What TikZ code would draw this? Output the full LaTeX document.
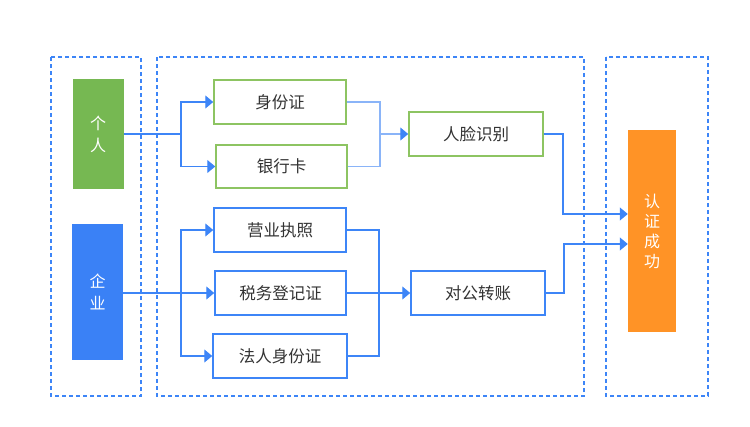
\documentclass[tikz,border=0pt]{standalone}
\usepackage{fontspec}
\setmainfont{Noto Sans CJK SC}
\usetikzlibrary{arrows.meta}
\definecolor{dblue}{HTML}{3D85F7}
\definecolor{lblue}{HTML}{8AB4F8}
\definecolor{lgreen}{HTML}{8DC462}
\definecolor{fgreen}{HTML}{76B852}
\definecolor{fblue}{HTML}{3A81F6}
\definecolor{forange}{HTML}{FF9326}
\definecolor{txt}{HTML}{333333}
\begin{document}
\begin{tikzpicture}[x=1pt,y=-1pt,
  dashbox/.style={draw=dblue,line width=1.1pt,dash pattern=on 4pt off 3pt},
  gbox/.style={draw=lgreen,line width=1.5pt,fill=white,text=txt,font=\fontsize{16.5}{19}\selectfont,inner sep=0pt},
  bbox/.style={draw=dblue,line width=1.5pt,fill=white,text=txt,font=\fontsize{16.5}{19}\selectfont,inner sep=0pt},
  solid/.style={inner sep=0pt,text=white,font=\fontsize{16}{22}\selectfont,align=center},
  conn/.style={draw=dblue,line width=1.2pt},
  lconn/.style={draw=lblue,line width=1.2pt},
  arr/.style={-{Triangle[length=8pt,width=13pt,color=dblue]}}
]
\useasboundingbox (0,0) rectangle (750,426);
\draw[dashbox] (51,57) rectangle (141,396);
\draw[dashbox] (157,57) rectangle (584,396);
\draw[dashbox] (606,57) rectangle (708,396);

\node[solid,fill=fgreen,minimum width=51pt,minimum height=110pt] (gr) at (98,134) {个\\人};
\node[solid,fill=fblue,minimum width=51pt,minimum height=136pt] (qy) at (97.5,292) {企\\业};
\node[solid,fill=forange,minimum width=48pt,minimum height=202pt,font=\fontsize{16}{20}\selectfont] (ok) at (652,231) {认\\证\\成\\功};

\node[gbox,minimum width=132pt,minimum height=44pt] (sfz) at (280,102) {身份证};
\node[gbox,minimum width=131pt,minimum height=43pt] (yhk) at (281.5,166.5) {银行卡};
\node[gbox,minimum width=134pt,minimum height=44pt] (rl) at (476,134) {人脸识别};
\node[bbox,minimum width=132pt,minimum height=44pt] (yy) at (280,230) {营业执照};
\node[bbox,minimum width=131pt,minimum height=44pt] (sw) at (280.5,293) {税务登记证};
\node[bbox,minimum width=134pt,minimum height=44pt] (fr) at (280,356) {法人身份证};
\node[bbox,minimum width=134pt,minimum height=44pt] (dg) at (478,293) {对公转账};

\coordinate (b1) at (181,134);
\coordinate (b2) at (380,134);
\coordinate (b3) at (181,293);
\coordinate (b4) at (379,293);
\coordinate (c1) at (563,214);
\coordinate (c2) at (564,244);

\draw[conn] (gr.east) -- (b1);
\draw[conn,arr] (b1) |- (sfz.west);
\draw[conn,arr] (b1) |- (yhk.west);
\draw[lconn] (sfz.east) -| (b2) |- (yhk.east);
\draw[lconn,arr] (b2) -- (rl.west);
\draw[conn,arr] (rl.east) -| (c1) -- (ok.west |- c1);

\draw[conn,arr] (qy.east |- b3) -- (sw.west);
\draw[conn,arr] (b3) |- (yy.west);
\draw[conn,arr] (b3) |- (fr.west);
\draw[conn] (yy.east) -| (b4) |- (fr.east);
\draw[conn,arr] (sw.east) -- (dg.west);
\draw[conn,arr] (dg.east) -| (c2) -- (ok.west |- c2);
\end{tikzpicture}
\end{document}
